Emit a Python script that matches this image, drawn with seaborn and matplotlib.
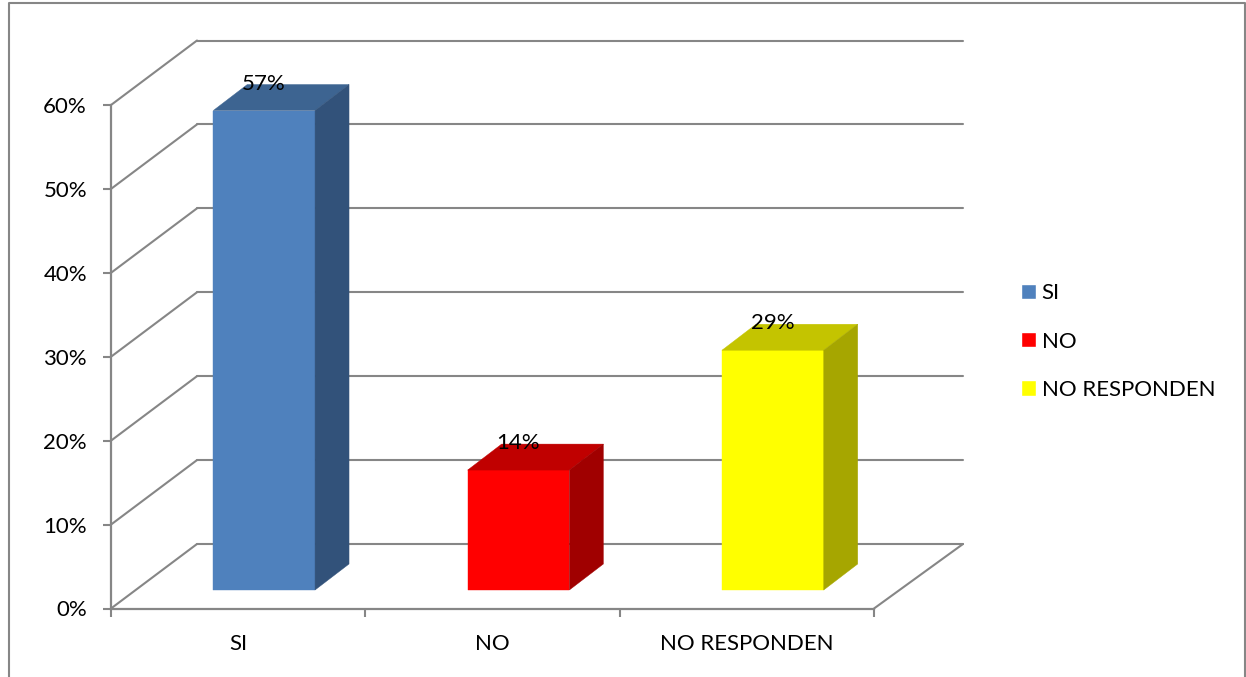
#! python3

# Import Libraries
import pandas as pd
import matplotlib
matplotlib.use("Agg")
import matplotlib.pyplot as plt
from matplotlib.lines import Line2D
from matplotlib.patches import Polygon
from matplotlib.transforms import IdentityTransform
import seaborn as sns

# Data
categorias = ["SI", "NO", "NO RESPONDEN"]
valores = [57.14, 14.29, 28.57]
etiquetas = ["57%", "14%", "29%"]
niveles = [0, 10, 20, 30, 40, 50, 60]

# Colours: front, top, side
frente = ["#4F81BD", "#FF0000", "#FFFF00"]
arriba = ["#3D6491", "#C00000", "#C4C400"]
lado = ["#32527A", "#A00000", "#A6A600"]
GRIS = "#868686"

W, H = 1246, 677
BAR_SHIFT = (26, 18.5)    # floor front edge -> bar front face
BAR_DEPTH = (34, 26)      # bar depth
WALL_LEFT = (86, 64.5)    # left end of floor -> back wall
WALL_RIGHT = (89, 64.5)   # right end of floor -> back wall
FUENTE = 16

sns.set_theme(style="white")
plt.rcParams["font.family"] = ["Lato", "DejaVu Sans"]

df = pd.DataFrame({"categoria": categorias, "valor": valores})

# Draw Plot
fig = plt.figure(figsize=(W / 100, H / 100), dpi=100, facecolor="white")
ax = fig.add_axes([111 / W, 1 - 608.5 / H, (874 - 111) / W, (608.5 - 105) / H])
ax.patch.set_alpha(0)

sns.barplot(data=df, x="categoria", y="valor", hue="categoria", palette=frente,
            saturation=1, width=0.4, ax=ax, legend=True, zorder=4)
ax.set_xlim(-0.5, 2.5)
ax.set_ylim(0, 60)
fig.canvas.draw()

pixeles = IdentityTransform()


def to_px(x, y):
    return ax.transData.transform((x, y))


def linea(p0, p1):
    fig.add_artist(Line2D([p0[0], p1[0]], [p0[1], p1[1]], transform=pixeles,
                          color=GRIS, lw=1.5, zorder=1))


# Back wall grid and left wall diagonals
for nivel in niveles:
    a = to_px(-0.5, nivel)
    b = a + WALL_LEFT
    c = to_px(2.5, nivel) + WALL_RIGHT
    linea(a, b)
    linea(b, c)
linea(to_px(2.5, 0), to_px(2.5, 0) + WALL_RIGHT)

# 3D faces, built from the seaborn bars
for i, contenedor in enumerate(ax.containers):
    bar = contenedor[0]
    x0, x1 = bar.get_x(), bar.get_x() + bar.get_width()
    y1 = bar.get_height()
    ll = to_px(x0, 0) + BAR_SHIFT
    lr = to_px(x1, 0) + BAR_SHIFT
    ul = to_px(x0, y1) + BAR_SHIFT
    ur = to_px(x1, y1) + BAR_SHIFT
    bar.set_visible(False)
    caras = [([ll, lr, ur, ul], frente[i]),
             ([ul, ur, ur + BAR_DEPTH, ul + BAR_DEPTH], arriba[i]),
             ([lr, lr + BAR_DEPTH, ur + BAR_DEPTH, ur], lado[i])]
    for puntos, color in caras:
        fig.add_artist(Polygon(puntos, closed=True, transform=pixeles, facecolor=color,
                               edgecolor=color, lw=0.3, zorder=3))
    # Data label
    centro = (ll + lr) / 2
    fig.text(centro[0], ur[1] + 27, etiquetas[i], transform=pixeles, ha="center",
             va="center", fontsize=FUENTE, color="black", zorder=5)

# Decoration
ax.set_xlabel("")
ax.set_ylabel("")
ax.set_yticks(niveles)
ax.set_yticklabels([f"{n}%" for n in niveles], fontsize=FUENTE, color="black")
ax.set_xticks([0, 1, 2])
ax.set_xticklabels(categorias, fontsize=FUENTE, color="black")
ax.set_xticks([-0.5, 0.5, 1.5, 2.5], minor=True)
ax.tick_params(axis="y", left=True, length=5.8, width=1.5, color=GRIS, pad=11.5)
ax.tick_params(axis="x", which="major", bottom=False, length=0, pad=18.5)
ax.tick_params(axis="x", which="minor", bottom=True, length=5.8, width=1.5, color=GRIS)
sns.despine(ax=ax)
for lado_ax in ["left", "bottom"]:
    ax.spines[lado_ax].set_color(GRIS)
    ax.spines[lado_ax].set_linewidth(1.6)

# Legend
sns.move_legend(ax, "center left", bbox_to_anchor=(1021 / W, 1 - 341.5 / H),
                bbox_transform=fig.transFigure, title=None, frameon=False,
                fontsize=FUENTE, handlelength=0.68, handleheight=0.68, handletextpad=0.25,
                labelspacing=1.27, borderpad=0, borderaxespad=0)
for texto in ax.get_legend().get_texts():
    texto.set_color("black")

# Outer frame, open at the bottom
borde = [(9, -5), (9, H - 2.5), (1245, H - 2.5), (1245, -5)]
fig.add_artist(Line2D([p[0] for p in borde], [p[1] for p in borde], transform=pixeles,
                      color=GRIS, lw=1.5, zorder=6))

# Save Plot
fig.savefig("out.png", dpi=100)
